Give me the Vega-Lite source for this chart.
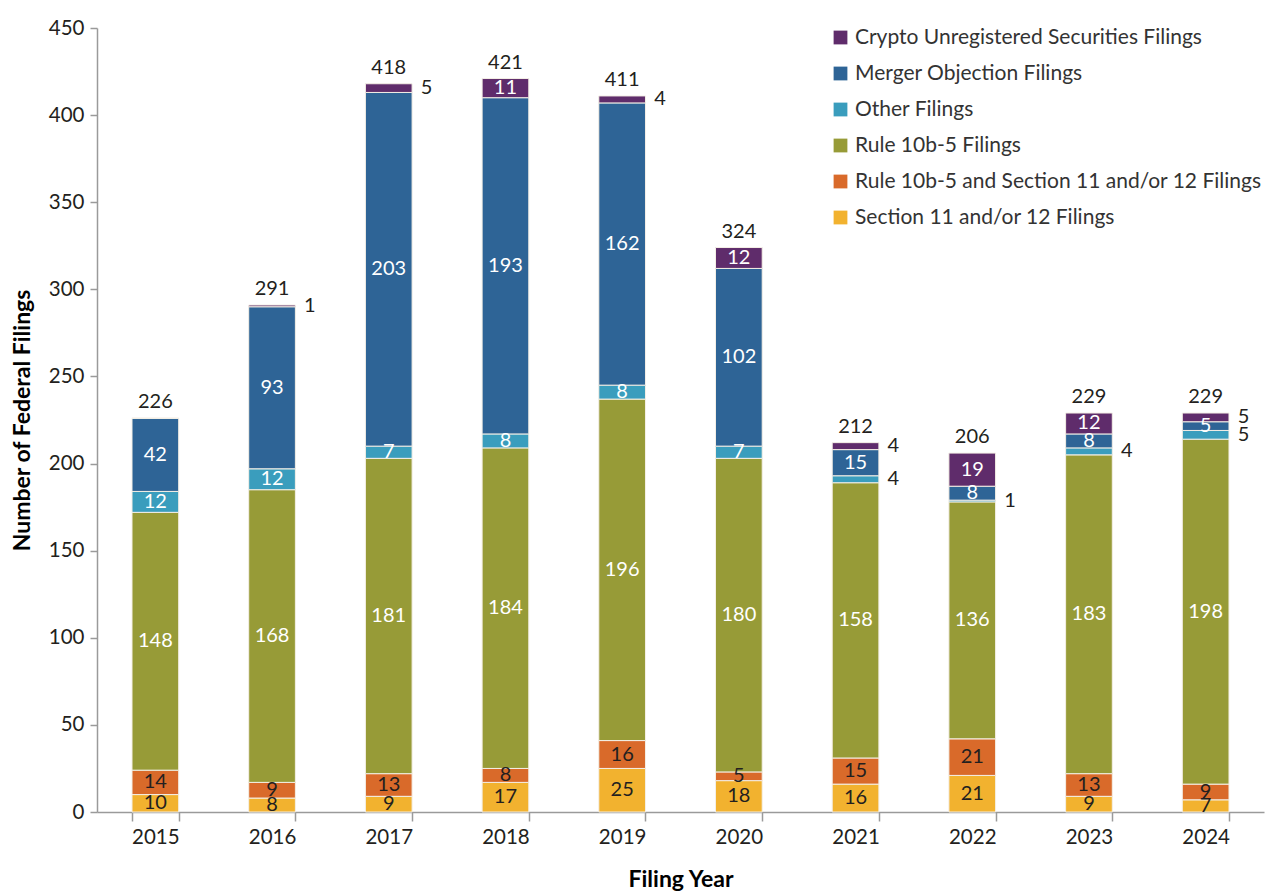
{
  "$schema": "https://vega.github.io/schema/vega-lite/v6.json",
  "width": 1167,
  "height": 784,
  "autosize": {"type": "none"},
  "padding": {"left": 97, "top": 28, "right": 1, "bottom": 80},
  "config": {
    "font": "Lato",
    "view": {"stroke": null},
    "axis": {"labelFont": "Lato", "titleFont": "Lato", "labelColor": "#231f20", "titleColor": "#000000", "domainColor": "#9a9a9a", "tickColor": "#9a9a9a", "grid": false}
  },
  "data": {"values": [
    {"year": "2015", "category": "Section 11 and/or 12 Filings", "value": 10},
    {"year": "2015", "category": "Rule 10b-5 and Section 11 and/or 12 Filings", "value": 14},
    {"year": "2015", "category": "Rule 10b-5 Filings", "value": 148},
    {"year": "2015", "category": "Other Filings", "value": 12},
    {"year": "2015", "category": "Merger Objection Filings", "value": 42},
    {"year": "2015", "category": "Crypto Unregistered Securities Filings", "value": 0},
    {"year": "2016", "category": "Section 11 and/or 12 Filings", "value": 8},
    {"year": "2016", "category": "Rule 10b-5 and Section 11 and/or 12 Filings", "value": 9},
    {"year": "2016", "category": "Rule 10b-5 Filings", "value": 168},
    {"year": "2016", "category": "Other Filings", "value": 12},
    {"year": "2016", "category": "Merger Objection Filings", "value": 93},
    {"year": "2016", "category": "Crypto Unregistered Securities Filings", "value": 1},
    {"year": "2017", "category": "Section 11 and/or 12 Filings", "value": 9},
    {"year": "2017", "category": "Rule 10b-5 and Section 11 and/or 12 Filings", "value": 13},
    {"year": "2017", "category": "Rule 10b-5 Filings", "value": 181},
    {"year": "2017", "category": "Other Filings", "value": 7},
    {"year": "2017", "category": "Merger Objection Filings", "value": 203},
    {"year": "2017", "category": "Crypto Unregistered Securities Filings", "value": 5},
    {"year": "2018", "category": "Section 11 and/or 12 Filings", "value": 17},
    {"year": "2018", "category": "Rule 10b-5 and Section 11 and/or 12 Filings", "value": 8},
    {"year": "2018", "category": "Rule 10b-5 Filings", "value": 184},
    {"year": "2018", "category": "Other Filings", "value": 8},
    {"year": "2018", "category": "Merger Objection Filings", "value": 193},
    {"year": "2018", "category": "Crypto Unregistered Securities Filings", "value": 11},
    {"year": "2019", "category": "Section 11 and/or 12 Filings", "value": 25},
    {"year": "2019", "category": "Rule 10b-5 and Section 11 and/or 12 Filings", "value": 16},
    {"year": "2019", "category": "Rule 10b-5 Filings", "value": 196},
    {"year": "2019", "category": "Other Filings", "value": 8},
    {"year": "2019", "category": "Merger Objection Filings", "value": 162},
    {"year": "2019", "category": "Crypto Unregistered Securities Filings", "value": 4},
    {"year": "2020", "category": "Section 11 and/or 12 Filings", "value": 18},
    {"year": "2020", "category": "Rule 10b-5 and Section 11 and/or 12 Filings", "value": 5},
    {"year": "2020", "category": "Rule 10b-5 Filings", "value": 180},
    {"year": "2020", "category": "Other Filings", "value": 7},
    {"year": "2020", "category": "Merger Objection Filings", "value": 102},
    {"year": "2020", "category": "Crypto Unregistered Securities Filings", "value": 12},
    {"year": "2021", "category": "Section 11 and/or 12 Filings", "value": 16},
    {"year": "2021", "category": "Rule 10b-5 and Section 11 and/or 12 Filings", "value": 15},
    {"year": "2021", "category": "Rule 10b-5 Filings", "value": 158},
    {"year": "2021", "category": "Other Filings", "value": 4},
    {"year": "2021", "category": "Merger Objection Filings", "value": 15},
    {"year": "2021", "category": "Crypto Unregistered Securities Filings", "value": 4},
    {"year": "2022", "category": "Section 11 and/or 12 Filings", "value": 21},
    {"year": "2022", "category": "Rule 10b-5 and Section 11 and/or 12 Filings", "value": 21},
    {"year": "2022", "category": "Rule 10b-5 Filings", "value": 136},
    {"year": "2022", "category": "Other Filings", "value": 1},
    {"year": "2022", "category": "Merger Objection Filings", "value": 8},
    {"year": "2022", "category": "Crypto Unregistered Securities Filings", "value": 19},
    {"year": "2023", "category": "Section 11 and/or 12 Filings", "value": 9},
    {"year": "2023", "category": "Rule 10b-5 and Section 11 and/or 12 Filings", "value": 13},
    {"year": "2023", "category": "Rule 10b-5 Filings", "value": 183},
    {"year": "2023", "category": "Other Filings", "value": 4},
    {"year": "2023", "category": "Merger Objection Filings", "value": 8},
    {"year": "2023", "category": "Crypto Unregistered Securities Filings", "value": 12},
    {"year": "2024", "category": "Section 11 and/or 12 Filings", "value": 7},
    {"year": "2024", "category": "Rule 10b-5 and Section 11 and/or 12 Filings", "value": 9},
    {"year": "2024", "category": "Rule 10b-5 Filings", "value": 198},
    {"year": "2024", "category": "Other Filings", "value": 5},
    {"year": "2024", "category": "Merger Objection Filings", "value": 5},
    {"year": "2024", "category": "Crypto Unregistered Securities Filings", "value": 5}
  ]},
  "encoding": {
    "x": {
      "field": "year", "type": "ordinal",
      "scale": {"paddingInner": 0.6, "paddingOuter": 0.3, "align": 0.5},
      "axis": {"title": "Filing Year", "titleFontSize": 23, "titleFontWeight": "bold", "titlePadding": 21, "labelFontSize": 20.5, "labelAngle": 0, "labelPadding": 6, "tickBand": "extent", "tickSize": 9, "domainWidth": 1.5, "tickWidth": 1.5}
    }
  },
  "layer": [
    {
      "transform": [
        {"stack": "value", "groupby": ["year"], "sort": [{"field": "category", "order": "descending"}], "as": ["y0", "y1"]}
      ],
      "mark": {"type": "bar", "stroke": "#f4efe6", "strokeWidth": 1},
      "encoding": {
        "y": {"field": "y0", "type": "quantitative", "scale": {"domain": [0, 450]},
              "axis": {"title": "Number of Federal Filings", "titleFontSize": 23, "titleFontWeight": "bold", "titlePadding": 14, "labelFontSize": 20.5, "values": [0,50,100,150,200,250,300,350,400,450], "tickSize": 7, "labelPadding": 6, "domainWidth": 1.5, "tickWidth": 1.5}},
        "y2": {"field": "y1"},
        "color": {
          "field": "category", "type": "nominal",
          "scale": {
            "domain": ["Crypto Unregistered Securities Filings", "Merger Objection Filings", "Other Filings", "Rule 10b-5 Filings", "Rule 10b-5 and Section 11 and/or 12 Filings", "Section 11 and/or 12 Filings"],
            "range": ["#5f2c6b", "#2e6496", "#3a9dbd", "#979b37", "#d96a2a", "#f2b22f"]
          },
          "legend": {"title": null, "orient": "none", "legendX": 733, "legendY": -1, "symbolType": "square", "symbolSize": 190, "symbolStrokeWidth": 0, "labelFontSize": 21, "labelColor": "#333333", "labelFont": "Lato", "rowPadding": 14, "labelOffset": 4, "labelLimit": 500}
        }
      }
    },
    {
      "transform": [
        {"stack": "value", "groupby": ["year"], "sort": [{"field": "category", "order": "descending"}], "as": ["y0", "y1"]},
        {"calculate": "(datum.y0 + datum.y1) / 2", "as": "ymid"},
        {"filter": "datum.value > 0 && !((datum.category == 'Crypto Unregistered Securities Filings' || datum.category == 'Other Filings') && datum.value <= 5)"}
      ],
      "mark": {"type": "text", "fontSize": 20, "baseline": "middle", "align": "center", "font": "Lato"},
      "encoding": {
        "y": {"field": "ymid", "type": "quantitative"},
        "text": {"field": "value", "type": "quantitative"},
        "color": {
          "condition": {"test": "datum.category == 'Rule 10b-5 and Section 11 and/or 12 Filings' || datum.category == 'Section 11 and/or 12 Filings'", "value": "#231f20"},
          "value": "#ffffff"
        }
      }
    },
    {
      "transform": [
        {"stack": "value", "groupby": ["year"], "sort": [{"field": "category", "order": "descending"}], "as": ["y0", "y1"]},
        {"calculate": "(datum.y0 + datum.y1) / 2", "as": "ymid"},
        {"filter": "datum.value > 0 && (datum.category == 'Crypto Unregistered Securities Filings' || datum.category == 'Other Filings') && datum.value <= 5"}
      ],
      "mark": {"type": "text", "fontSize": 20, "baseline": "middle", "align": "left", "dx": 32, "color": "#231f20", "font": "Lato"},
      "encoding": {
        "y": {"field": "ymid", "type": "quantitative"},
        "text": {"field": "value", "type": "quantitative"}
      }
    },
    {
      "transform": [
        {"aggregate": [{"op": "sum", "field": "value", "as": "total"}], "groupby": ["year"]}
      ],
      "mark": {"type": "text", "fontSize": 20, "baseline": "bottom", "align": "center", "dy": -6, "color": "#231f20", "font": "Lato"},
      "encoding": {
        "y": {"field": "total", "type": "quantitative"},
        "text": {"field": "total", "type": "quantitative"}
      }
    }
  ]
}
